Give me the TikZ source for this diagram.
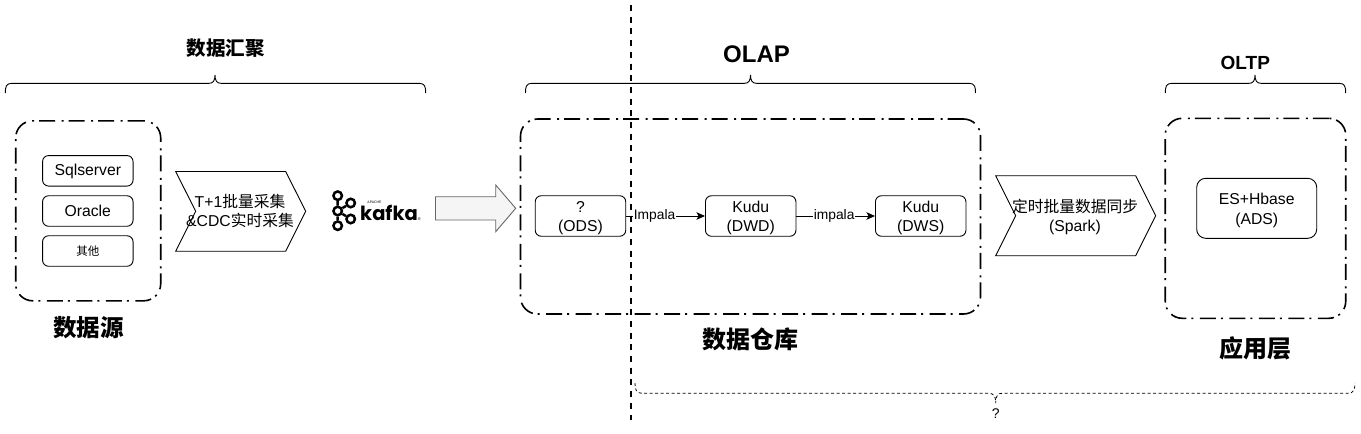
\documentclass[tikz,border=0pt]{standalone}
\usepackage{fontspec}
\usepackage{tikz}
\usetikzlibrary{arrows.meta}
\setmainfont{Liberation Sans}
\newfontfamily\cjk{Noto Sans CJK SC}
\newfontfamily\kafkafont{Poppins}
\newcommand{\zh}[1]{{\cjk #1}}
\newcommand{\fs}[1]{\fontsize{#1}{#1}\selectfont}
\newcommand{\lowered}{\rule{0pt}{15pt}}
\tikzset{
    zone/.style={draw, line width=1.6pt, rounded corners=17pt, inner sep=0pt,
        dash pattern=on 16pt off 5pt on 2pt off 6.5pt},
    store/.style={draw, line width=0.9pt, rounded corners=6pt, inner sep=0pt, fill=white,
        align=center, font=\fontsize{15.75}{19.7}\selectfont},
    oneline/.style={text height=13pt, text depth=3pt},
    stepbox/.style={draw, line width=0.9pt, fill=white},
    steptext/.style={align=center, font=\fs{15.75}},
    flow/.style={draw, line width=0.9pt, -{Stealth[length=8.5pt,width=7.5pt,inset=2pt]}},
    flowtext/.style={fill=white, inner sep=0.5pt, font=\fs{13.8}},
    grouptext/.style={font=\bfseries\fs{#1}, inner sep=0pt},
    bracket/.style={line width=0.9pt},
    kafkadot/.style={circle, draw, line width=2.5pt, minimum size=8.5pt, inner sep=0pt}
}
\begin{document}
\begin{tikzpicture}[x=1pt,y=-1pt]
    \useasboundingbox (0,0) rectangle (1361,434);

    % source side
    \node[zone, minimum width=145pt, minimum height=180pt] (source) at (88.2,210.8) {};
    \node[store, oneline, minimum width=90.5pt, minimum height=30.5pt] (sqlserver) at (87.8,170.8) {Sqlserver};
    \node[store, oneline, minimum width=90.5pt, minimum height=30.5pt] (oracle) at (87.8,211) {Oracle};
    \node[store, minimum width=90.5pt, minimum height=30.5pt, font=\fs{11.5}] (other) at (87.8,251) {\zh{其他}};
    \node[grouptext=23.5] (sourcetext) at (88.5,328) {\zh{数据源}};

    \draw[stepbox] (175.7,171.5) -- (285.7,171.5) -- (305.7,211.3) -- (285.7,251.2) -- (175.7,251.2) -- (195.7,211.3) -- cycle;
    \node[steptext] (collect) at (240,211) {T+1\zh{批量采集}\\[3pt]\&CDC\zh{实时采集}};

    % kafka logo
    \node[kafkadot] (k1) at (337.7,195.7) {};
    \node[kafkadot] (k2) at (337.7,211) {};
    \node[kafkadot] (k3) at (337.7,225.7) {};
    \node[kafkadot] (k4) at (350.7,203) {};
    \node[kafkadot] (k5) at (350.7,219) {};
    \draw[line width=2.5pt] (k1) -- (k2) -- (k3) (k2) -- (k4) (k2) -- (k5);
    \node[inner sep=0pt, font=\kafkafont\bfseries\fs{19.5}] (kafka) at (389,213) {kafka};
    \node[inner sep=0pt, font=\fs{3.5}] (apache) at (374.5,202.5) {APACHE};
    \node[inner sep=0pt, font=\fs{4}] (reg) at (419.3,219) {®};

    \draw[draw=black!60, fill=black!4, line width=0.9pt] (435.5,196.7) -- (495.7,196.7) -- (495.7,185)
        -- (515.7,208.3) -- (495.7,231.7) -- (495.7,220) -- (435.5,220) -- cycle;

    % warehouse
    \node[zone, minimum width=460pt, minimum height=195pt] (warehouse) at (750.5,216.5) {};
    \node[store, minimum width=90.5pt, minimum height=40.5pt] (ods) at (580.5,216) {\lowered ?\\(ODS)};
    \node[store, minimum width=90.5pt, minimum height=40.5pt] (dwd) at (750.7,216) {\lowered Kudu\\(DWD)};
    \node[store, minimum width=90.5pt, minimum height=40.5pt] (dws) at (920.7,216) {\lowered Kudu\\(DWS)};
    \draw[flow] (ods) -- node[flowtext, pos=0.36] (impalaa) {Impala} (dwd);
    \draw[flow] (dwd) -- node[flowtext, pos=0.48] (impalab) {impala} (dws);
    \node[grouptext=24] (warehousetext) at (750.5,339) {\zh{数据仓库}};

    \draw[stepbox] (995.7,175.7) -- (1135.7,175.7) -- (1155.7,215.7) -- (1135.7,255.7) -- (995.7,255.7) -- (1015.7,215.7) -- cycle;
    \node[steptext] (sync) at (1075,217) {\zh{定时批量数据同步}\\[3pt](Spark)};

    % application side
    \node[zone, minimum width=180.5pt, minimum height=200pt] (app) at (1255.5,218.3) {};
    \node[store, minimum width=120pt, minimum height=60pt, rounded corners=9pt] (ads) at (1256.7,208.3) {\lowered ES+Hbase\\(ADS)};
    \node[grouptext=24] (apptext) at (1255.5,348) {\zh{应用层}};

    % brackets and their titles
    \draw[bracket] (5.3,93) .. controls (5.3,87) and (6,83.3) .. (12,83.3) -- (209,83.3)
        .. controls (213,83.3) and (215,81) .. (215,75) .. controls (215,81) and (217,83.3) .. (221,83.3)
        -- (419,83.3) .. controls (425,83.3) and (425.7,87) .. (425.7,93);
    \node[grouptext=19.5] (gathertext) at (225.8,47.7) {\zh{数据汇聚}};

    \draw[bracket] (525.5,93) .. controls (525.5,87) and (526,83.3) .. (532,83.3) -- (744.5,83.3)
        .. controls (748.5,83.3) and (750.5,81) .. (750.5,75) .. controls (750.5,81) and (752.5,83.3) .. (756.5,83.3)
        -- (969,83.3) .. controls (975,83.3) and (975.5,87) .. (975.5,93);
    \node[grouptext=24] (olaptext) at (756.5,54) {OLAP};

    \draw[bracket] (1165.3,93) .. controls (1165.3,87) and (1166,83.3) .. (1172,83.3) -- (1249,83.3)
        .. controls (1253,83.3) and (1255,81) .. (1255,75) .. controls (1255,81) and (1257,83.3) .. (1261,83.3)
        -- (1339,83.3) .. controls (1345,83.3) and (1345.7,87) .. (1345.7,93);
    \node[grouptext=19] (oltptext) at (1245.3,62.7) {OLTP};

    \draw[line width=0.8pt, dash pattern=on 3pt off 2.5pt] (635,383) .. controls (635,389) and (636,393.3) .. (642,393.3) -- (989,393.3)
        .. controls (993,393.3) and (995.7,395.5) .. (995.7,403) .. controls (995.7,395.5) and (998,393.3) .. (1002,393.3)
        -- (1348,393.3) .. controls (1354,393.3) and (1355,389) .. (1355,383);
    \node[inner sep=0pt, font=\fs{14}] (unknown) at (995.7,414) {?};

    % divider
    \coordinate (dividertop) at (630.5,5);
    \coordinate (dividerbottom) at (630.5,420);
    \draw[line width=2pt, dash pattern=on 6pt off 5.7pt] (dividertop) -- (dividerbottom);
\end{tikzpicture}
\end{document}
